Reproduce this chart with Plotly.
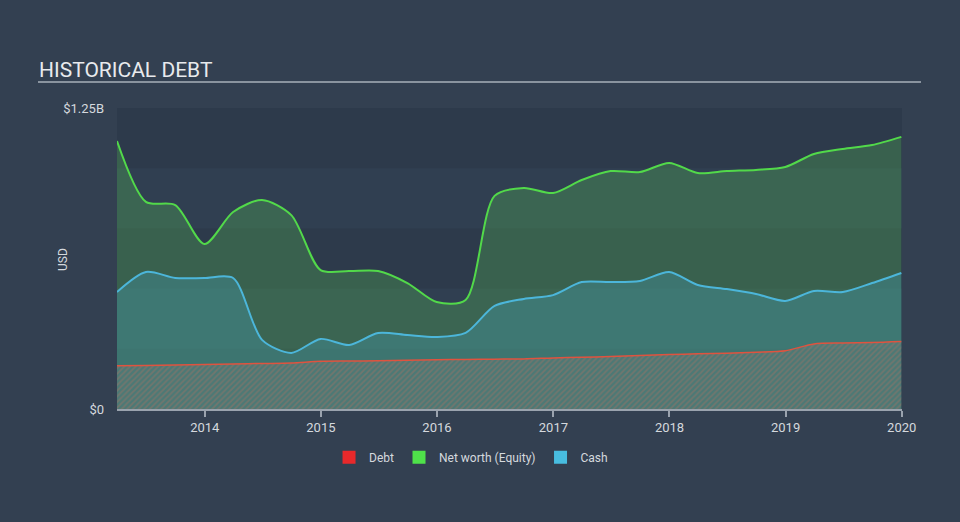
import plotly.graph_objects as go

dates = ["2013-03-31", "2013-06-30", "2013-09-30", "2013-12-31",
         "2014-03-31", "2014-06-30", "2014-09-30", "2014-12-31",
         "2015-03-31", "2015-06-30", "2015-09-30", "2015-12-31",
         "2016-03-31", "2016-06-30", "2016-09-30", "2016-12-31",
         "2017-03-31", "2017-06-30", "2017-09-30", "2017-12-31",
         "2018-03-31", "2018-06-30", "2018-09-30", "2018-12-31",
         "2019-03-31", "2019-06-30", "2019-09-30", "2019-12-31"]

net_worth = [1.113, 0.860, 0.847, 0.685, 0.818, 0.868, 0.805, 0.577,
             0.573, 0.573, 0.523, 0.444, 0.453, 0.885, 0.918, 0.897,
             0.951, 0.988, 0.984, 1.022, 0.980, 0.988, 0.993, 1.005,
             1.059, 1.080, 1.096, 1.130]

cash = [0.486, 0.569, 0.544, 0.544, 0.544, 0.287, 0.233, 0.291,
        0.266, 0.316, 0.307, 0.299, 0.316, 0.428, 0.457, 0.473,
        0.527, 0.527, 0.532, 0.569, 0.515, 0.498, 0.478, 0.449,
        0.490, 0.486, 0.523, 0.565]

debt = [0.180, 0.181, 0.183, 0.185, 0.187, 0.189, 0.191, 0.198,
        0.199, 0.200, 0.202, 0.205, 0.206, 0.207, 0.208, 0.212,
        0.215, 0.218, 0.222, 0.226, 0.229, 0.232, 0.236, 0.242,
        0.270, 0.274, 0.276, 0.280]

year_ticks = ["2014-01-01", "2015-01-01", "2016-01-01", "2017-01-01",
              "2018-01-01", "2019-01-01", "2020-01-01"]
year_labels = ["2014", "2015", "2016", "2017", "2018", "2019", "2020"]
y_ticks = [0, 1.25]
y_labels = ["$0", "$1.25B"]

GREEN = "#52d94a"
BLUE = "#4cb6da"
RED = "#e0533f"
PAGE = "#334051"
PLOT = "#2d3a4b"
BAND = "#303f51"

fig = go.Figure()

fig.add_trace(go.Scatter(
    x=dates, y=net_worth, mode="lines", name="Net worth (Equity)",
    line=dict(color=GREEN, width=2, shape="spline", smoothing=0.8),
    fill="tozeroy", fillcolor="rgba(85,190,85,0.30)", showlegend=False,
    hoverinfo="skip"))
fig.add_trace(go.Scatter(
    x=dates, y=cash, mode="lines", name="Cash",
    line=dict(color=BLUE, width=2, shape="spline", smoothing=0.8),
    fill="tozeroy", fillcolor="rgba(77,184,220,0.24)", showlegend=False,
    hoverinfo="skip"))
fig.add_trace(go.Scatter(
    x=dates, y=debt, mode="lines", name="Debt",
    line=dict(color=RED, width=1.5, shape="spline", smoothing=0.8),
    fill="tozeroy", fillcolor="rgba(0,0,0,0)",
    fillpattern=dict(shape="/", fgcolor="rgba(210,110,90,0.55)",
                     bgcolor="rgba(120,130,130,0.25)", size=4, solidity=0.45),
    showlegend=False, hoverinfo="skip"))

# legend-only entries
for nm, col in [("Debt", "#e8292b"), ("Net worth (Equity)", "#4fe24a"), ("Cash", "#48bde0")]:
    fig.add_trace(go.Scatter(x=[None], y=[None], mode="markers", name=nm,
                             marker=dict(symbol="square", size=13, color=col)))

shapes = []
for y0, y1 in [(0.25, 0.5), (0.75, 1.0)]:
    shapes.append(dict(type="rect", xref="paper", yref="y", x0=0, x1=1,
                       y0=y0, y1=y1, fillcolor=BAND, line=dict(width=0),
                       layer="below"))
# title underline
shapes.append(dict(type="line", xref="paper", yref="paper",
                   x0=(38 - 117) / 785, x1=(921 - 117) / 785,
                   y0=(409 - 82) / 301, y1=(409 - 82) / 301,
                   line=dict(color="#a9b0ba", width=1.5)))

fig.update_layout(
    width=960, height=522,
    margin=dict(l=117, r=58, t=108, b=113),
    paper_bgcolor=PAGE, plot_bgcolor=PLOT,
    font=dict(family="Roboto", color="#d5d9de", size=12),
    shapes=shapes,
    showlegend=True,
    legend=dict(orientation="h", x=0.451, xanchor="center", y=-0.16,
                yanchor="middle", font=dict(size=12, color="#d5d9de"),
                bgcolor="rgba(0,0,0,0)", itemwidth=30),
    annotations=[
        dict(text="HISTORICAL DEBT", xref="paper", yref="paper",
             x=(37 - 117) / 785, y=(409 - 70) / 301, xanchor="left",
             yanchor="middle", showarrow=False,
             font=dict(size=21, color="#e8eaed", family="Roboto")),
        dict(text="USD", xref="paper", yref="paper",
             x=(63 - 117) / 785, y=(409 - 260) / 301, textangle=-90,
             xanchor="center", yanchor="middle", showarrow=False,
             font=dict(size=12, color="#d5d9de")),
    ],
)

fig.update_xaxes(
    range=["2013-03-31", "2020-01-02"], tickvals=year_ticks,
    ticktext=year_labels, showgrid=False, zeroline=False,
    showline=True, linecolor="#9aa3ae", linewidth=1.5,
    ticks="outside", ticklen=6, tickcolor="#9aa3ae", tickwidth=1.5,
    tickfont=dict(size=13, color="#d5d9de"))
fig.update_yaxes(
    range=[0, 1.25], tickvals=y_ticks, ticktext=y_labels,
    showgrid=False, zeroline=False, showline=False, ticks="",
    ticklabelstandoff=12,
    tickfont=dict(size=13, color="#d5d9de"))

fig.write_html("out.html")
